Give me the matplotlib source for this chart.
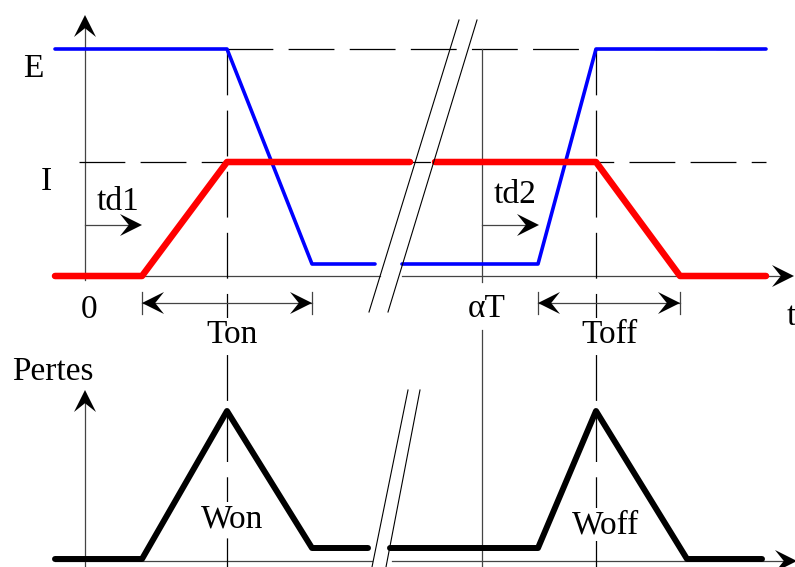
import matplotlib
matplotlib.use('Agg')
import matplotlib.pyplot as plt
from matplotlib.patches import Polygon

plt.rcParams['font.family'] = ['Liberation Serif', 'DejaVu Serif']
plt.rcParams['lines.scale_dashes'] = False

# everything is laid out in image pixels (x to the right, y downwards)
y_E, y_I, y_0, y_sat = 49, 162, 276, 264      # levels of the top panel
y_p0, y_pcond, y_pk = 559, 548, 411           # levels of the losses panel
x_axis, x_on, x_aT, x_off = 85, 227, 482, 596  # y axis, turn-on, alpha*T, turn-off

# voltage (blue) and current (red) around turn-on and turn-off
v_on_x = [55, 227, 312, 375]
v_on_y = [y_E, y_E, y_sat, y_sat]
i_on_x = [55, 142, 227, 410]
i_on_y = [y_0, y_0, y_I, y_I]
v_off_x = [402, 538, 596, 766]
v_off_y = [y_sat, y_sat, y_E, y_E]
i_off_x = [435, 596, 680, 766]
i_off_y = [y_I, y_I, y_0, y_0]

# switching losses
p_on_x = [55, 142, 227, 312, 368]
p_on_y = [y_p0, y_p0, y_pk, y_pcond, y_pcond]
p_off_x = [390, 538, 596, 687, 762]
p_off_y = [y_pcond, y_pcond, y_pk, y_p0, y_p0]

fig = plt.figure(figsize=(7.95, 5.67), dpi=100)
ax = fig.add_axes([0, 0, 1, 1])
ax.set_xlim(0, 795)
ax.set_ylim(567, 0)
ax.axis('off')

thin = dict(color='#444444', lw=0.9, zorder=1)
dash = dict(color='black', lw=0.9, dashes=(33, 11), zorder=1)


def head(x, y, dx, dy, L=22, W=22, notch=0.6):
    px, py = -dy, dx
    pts = [(x, y),
           (x - L * dx + W / 2 * px, y - L * dy + W / 2 * py),
           (x - notch * L * dx, y - notch * L * dy),
           (x - L * dx - W / 2 * px, y - L * dy - W / 2 * py)]
    ax.add_patch(Polygon(pts, closed=True, facecolor='black', edgecolor='none', zorder=6))


# axes of the top panel
ax.plot([x_axis, x_axis], [18, 280], **thin)
head(x_axis, 15, 0, -1)
ax.plot([55, 380], [y_0, y_0], **thin)
ax.plot([402, 790], [y_0, y_0], **thin)
head(794, y_0, 1, 0)

# axes of the losses panel
ax.plot([x_axis, x_axis], [393, 567], **thin)
head(x_axis, 390, 0, -1)
ax.plot([55, 372], [561, 561], **thin)
ax.plot([392, 790], [561, 561], **thin)
head(797, 561, 1, 0)

# reference dashed lines
ax.plot([x_on, 766], [y_E, y_E], **dash)
ax.plot([79, 766], [y_I, y_I], **dash)
ax.plot([x_on, x_on], [y_E, 567], **dash)
ax.plot([x_off, x_off], [y_E, 567], **dash)

# alpha T line
ax.plot([x_aT, x_aT], [y_E, 282], **thin)
ax.plot([x_aT, x_aT], [330, 567], **thin)

# curves
ax.plot(v_on_x, v_on_y, color='#0000ff', lw=2.6, solid_capstyle='round', zorder=3)
ax.plot(v_off_x, v_off_y, color='#0000ff', lw=2.6, solid_capstyle='round', zorder=3)
ax.plot(i_on_x, i_on_y, color='#ff0000', lw=4.7, solid_capstyle='round', zorder=4)
ax.plot(i_off_x, i_off_y, color='#ff0000', lw=4.7, solid_capstyle='round', zorder=4)
ax.plot(p_on_x, p_on_y, color='black', lw=4.3, solid_capstyle='round', zorder=4)
ax.plot(p_off_x, p_off_y, color='black', lw=4.3, solid_capstyle='round', zorder=4)

# break marks
ax.plot([459, 369], [20, 312], color='black', lw=0.8, zorder=5)
ax.plot([477, 388], [20, 312], color='black', lw=0.8, zorder=5)
ax.plot([408, 372], [390, 567], color='black', lw=0.8, zorder=5)
ax.plot([420, 386], [390, 567], color='black', lw=0.8, zorder=5)

# delay arrows
ax.plot([x_axis, 130], [225, 225], **thin)
head(142, 225, 1, 0)
ax.plot([x_aT, 527], [225, 225], **thin)
head(539, 225, 1, 0)

# Ton / Toff brackets
for a, b in [(142, 312), (538, 680)]:
    ax.plot([a, b], [303, 303], **thin)
    ax.plot([a, a], [292, 314], **thin)
    ax.plot([b, b], [292, 314], **thin)
    head(a, 303, -1, 0)
    head(b, 303, 1, 0)

fs = 24
box = dict(facecolor='white', edgecolor='none', pad=1)
ax.text(33, 77, 'E', fontsize=fs, ha='center', va='baseline')
ax.text(46, 190, 'I', fontsize=fs, ha='center', va='baseline')
ax.text(118, 210, 'td1', fontsize=fs, ha='center', va='baseline')
ax.text(515, 203, 'td2', fontsize=fs, ha='center', va='baseline')
ax.text(89, 318, '0', fontsize=fs, ha='center', va='baseline')
ax.text(487, 317, 'αT', fontsize=fs, ha='center', va='baseline', bbox=box, zorder=7)
ax.text(232, 343, 'Ton', fontsize=fs, ha='center', va='baseline', bbox=box, zorder=7)
ax.text(610, 343, 'Toff', fontsize=fs, ha='center', va='baseline', bbox=box, zorder=7)
ax.text(787, 325, 't', fontsize=fs, ha='left', va='baseline')
ax.text(53, 380, 'Pertes', fontsize=fs, ha='center', va='baseline')
ax.text(232, 527, 'Won', fontsize=fs, ha='center', va='baseline', bbox=box, zorder=7)
ax.text(605, 533, 'Woff', fontsize=fs, ha='center', va='baseline', bbox=box, zorder=7)

fig.savefig('out.png', dpi=100)
